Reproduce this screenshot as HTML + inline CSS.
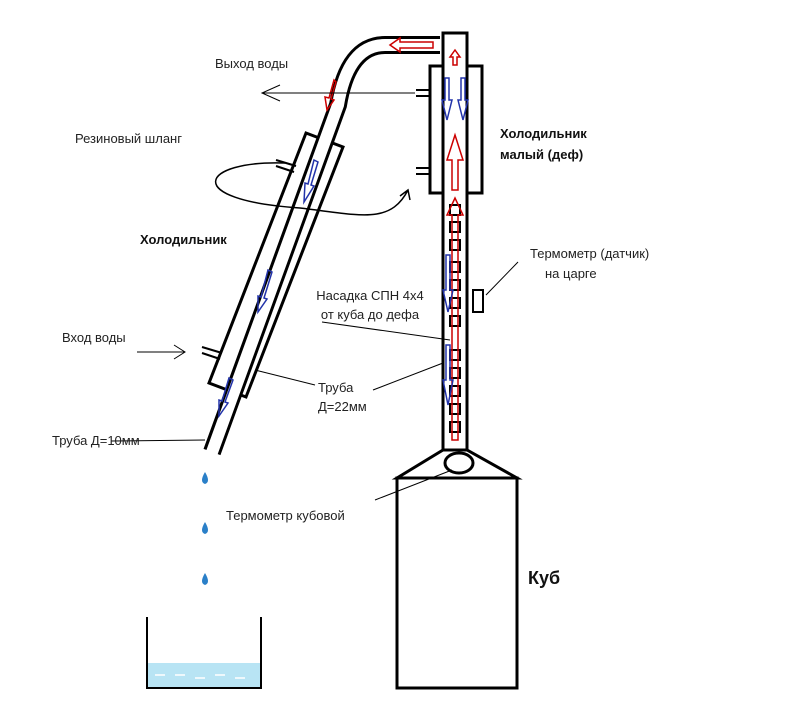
<!DOCTYPE html>
<html><head><meta charset="utf-8"><style>
body{margin:0;background:#fff;}
svg{display:block;font-family:"Liberation Sans",sans-serif;}
</style></head><body>
<svg width="800" height="716" viewBox="0 0 800 716" xmlns="http://www.w3.org/2000/svg">
<rect width="800" height="716" fill="#fff"/>
<!-- slanted jacket -->
<polygon points="306,133 343,147 246,397 209,383" fill="#fff" stroke="#000" stroke-width="3"/>
<!-- slanted pipe -->
<path d="M440,45 L385,45 Q348,45 338,105 L212,452" fill="none" stroke="#000" stroke-width="18"/>
<path d="M441,45 L385,45 Q348,45 338,105 L211,455" fill="none" stroke="#fff" stroke-width="12"/>
<!-- nozzles slanted -->
<path d="M276,160 L296,166 M276,166 L294,172 M202,347 L222,353 M202,353 L220,359" stroke="#000" stroke-width="2"/>
<!-- column jacket -->
<rect x="430" y="66" width="52" height="127" fill="#fff" stroke="#000" stroke-width="3"/>
<!-- column pipe -->
<rect x="443" y="33" width="24" height="418" fill="#fff" stroke="#000" stroke-width="3"/>
<path d="M416,90 L430,90 M416,96 L430,96 M416,168 L430,168 M416,174 L430,174" stroke="#000" stroke-width="2"/>
<!-- base -->
<polygon points="443,450 467,450 517,478 397,478" fill="#fff" stroke="#000" stroke-width="3"/>
<rect x="397" y="478" width="120" height="210" fill="#fff" stroke="#000" stroke-width="3"/>
<ellipse cx="459" cy="463" rx="14" ry="10" fill="#fff" stroke="#000" stroke-width="3"/>
<!-- packing squares -->
<g fill="none" stroke="#000" stroke-width="2">
<rect x="450" y="205" width="10" height="10"/><rect x="450" y="222" width="10" height="10"/><rect x="450" y="240" width="10" height="10"/><rect x="450" y="262" width="10" height="10"/><rect x="450" y="280" width="10" height="10"/><rect x="450" y="298" width="10" height="10"/><rect x="450" y="316" width="10" height="10"/><rect x="450" y="350" width="10" height="10"/><rect x="450" y="368" width="10" height="10"/><rect x="450" y="386" width="10" height="10"/><rect x="450" y="404" width="10" height="10"/><rect x="450" y="422" width="10" height="10"/>
</g>
<!-- red arrows up -->
<g fill="none" stroke="#c00" stroke-width="1.5">
<polygon points="452,190 452,160 447,160 455,135 463,160 458,160 458,190"/>
<polygon points="452,440 452,215 447,215 455,198 463,215 458,215 458,440"/>
<polygon points="453,65 453,57 450,57 455,50 460,57 457,57 457,65"/>
<polygon points="433,42 400,42 400,38 390,45 400,52 400,48 433,48"/>
<polygon points="334,80 329,98 325,97 327,110 334,100 331,99 336,82"/>
</g>
<!-- blue arrows down -->
<g fill="none" stroke="#2233aa" stroke-width="1.5">
<polygon points="445,78 449,78 449,100 452,100 447,120 442,100 445,100"/>
<polygon points="461,78 465,78 465,100 468,100 463,120 458,100 461,100"/>
<polygon points="446,255 450,255 450,290 453,290 448,312 443,290 446,290"/>
<polygon points="446,345 450,345 450,380 453,380 448,405 443,380 446,380"/>
<polygon points="314,160 318,162 311,185 314,186 304,202 305,183 308,184"/>
<polygon points="268,270 272,272 264,298 267,299 258,312 258,296 261,297"/>
<polygon points="229,378 233,380 225,402 228,403 219,416 219,400 222,401"/>
</g>
<!-- thermometer on column -->
<rect x="473" y="290" width="10" height="22" fill="#fff" stroke="#000" stroke-width="2"/>
<!-- leader lines -->
<g stroke="#000" stroke-width="1" fill="none">
<line x1="486" y1="295" x2="518" y2="262"/>
<line x1="322" y1="322" x2="450" y2="340"/>
<line x1="255" y1="370" x2="315" y2="385"/>
<line x1="373" y1="390" x2="443" y2="363"/>
<line x1="111" y1="441" x2="205" y2="440"/>
<line x1="375" y1="500" x2="452" y2="470"/>
<path d="M415,93 L262,93 M280,85 L262,93 L280,101"/>
<path d="M137,352 L185,352 M174,345 L185,352 L174,359"/>
<path d="M285,163 C200,160 180,200 300,208 C360,215 390,225 408,190 M400,196 L408,190 L410,200" stroke-width="1.5"/>
</g>
<!-- drops -->
<g fill="#2a7fc8"><path d="M205,472 Q199,482 205,484 Q211,482 205,472Z"/><path d="M205,522 Q199,532 205,534 Q211,532 205,522Z"/><path d="M205,573 Q199,583 205,585 Q211,583 205,573Z"/></g>
<!-- beaker -->
<rect x="147" y="663" width="114" height="25" fill="#b8e4f4"/>
<path d="M155,675 h10 M175,675 h10 M195,678 h10 M215,675 h10 M235,678 h10" stroke="#fff" stroke-width="1.5"/>
<path d="M147,617 L147,688 L261,688 L261,617" fill="none" stroke="#000" stroke-width="2"/>
<!-- texts -->
<g font-size="13" fill="#222">
<text x="215" y="68">Выход воды</text>
<text x="75" y="143">Резиновый шланг</text>
<text x="530" y="258">Термометр (датчик)</text>
<text x="545" y="278">на царге</text>
<text x="370" y="300" text-anchor="middle">Насадка СПН 4x4</text>
<text x="370" y="319" text-anchor="middle">от куба до дефа</text>
<text x="62" y="342">Вход воды</text>
<text x="318" y="392">Труба</text>
<text x="318" y="411">Д=22мм</text>
<text x="52" y="445">Труба Д=10мм</text>
<text x="226" y="520">Термометр кубовой</text>
</g>
<g font-size="13" font-weight="bold" fill="#111">
<text x="140" y="244">Холодильник</text>
<text x="500" y="138">Холодильник</text>
<text x="500" y="159">малый (деф)</text>
<text x="528" y="584" font-size="18">Куб</text>
</g>
</svg>
</body></html>
